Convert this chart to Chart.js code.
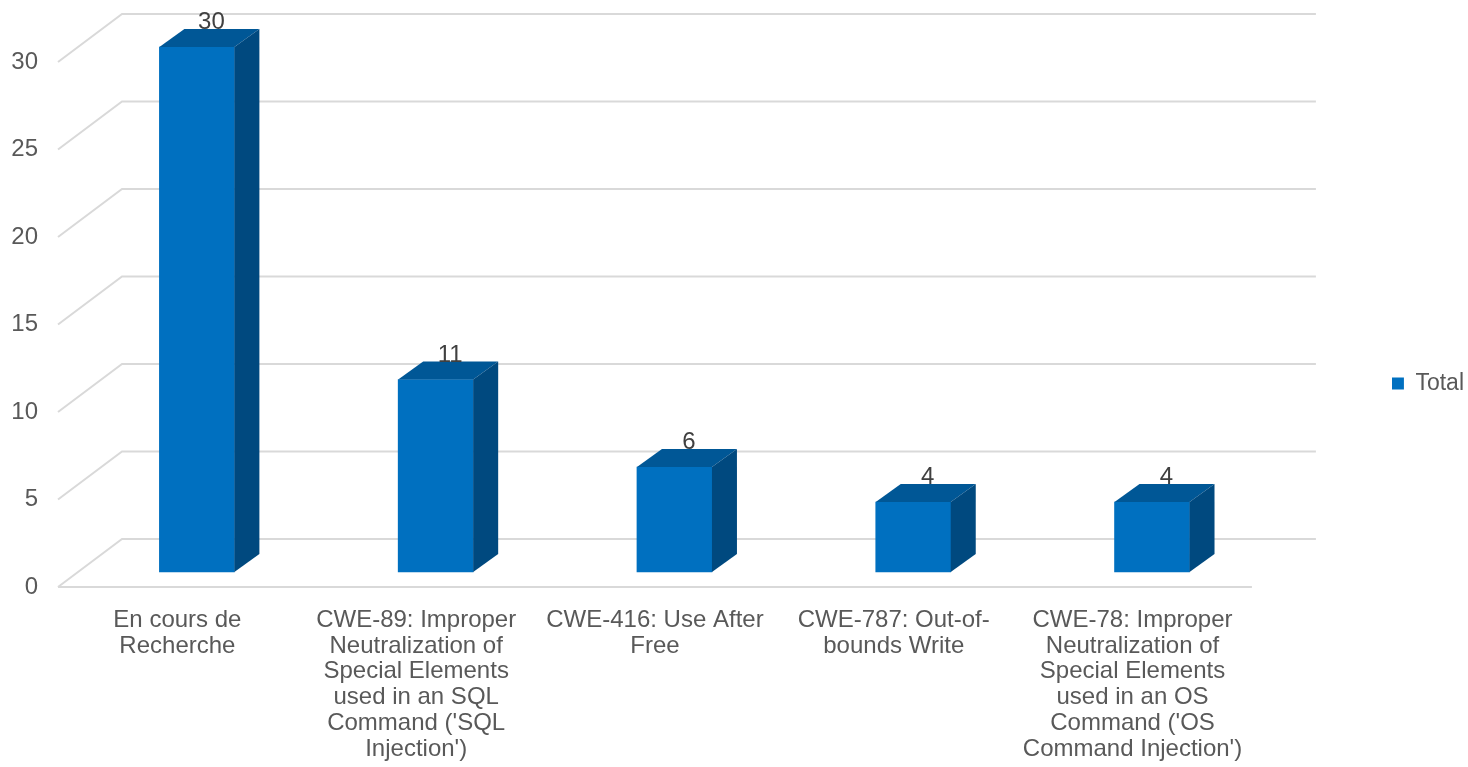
<!DOCTYPE html>
<html>
<head>
<meta charset="utf-8">
<script src="https://cdn.jsdelivr.net/npm/chart.js@4.4.1/dist/chart.umd.min.js"></script>
<style>
  html, body { margin: 0; padding: 0; background: #ffffff; }
  canvas { display: block; }
</style>
</head>
<body>
<canvas id="cweChart" width="1468" height="767"></canvas>
<script>
// Categories (wrapped like the original axis)
const categories = [
    ['En cours de', 'Recherche'],
    ['CWE-89: Improper', 'Neutralization of', 'Special Elements', 'used in an SQL', "Command ('SQL", "Injection')"],
    ['CWE-416: Use After', 'Free'],
    ['CWE-787: Out-of-', 'bounds Write'],
    ['CWE-78: Improper', 'Neutralization of', 'Special Elements', 'used in an OS', "Command ('OS", "Command Injection')"]
];
const totals = [30, 11, 6, 4, 4];
const yTicks = [0, 5, 10, 15, 20, 25, 30];
const seriesName = 'Total';

// 3D look (Excel style): back wall offset, bar position in depth, bar depth
const WALL = { dx: 64, dy: -48 };
const BAR_SHIFT = { dx: 19.5, dy: -15 };
const BAR_DEPTH = { dx: 25, dy: -18 };
const GRID_COLOR = '#d9d9d9';
const FONT = 'Liberation Sans, Arial, sans-serif';

// Draws the perspective grid, shifts bars into depth, adds top/side faces
const fake3d = {
    id: 'fake3d',
    beforeDatasetsDraw(chart) {
        const { ctx, chartArea, scales } = chart;
        const y = scales.y;
        ctx.save();
        ctx.strokeStyle = GRID_COLOR;
        ctx.lineWidth = 2;
        yTicks.forEach(v => {
            const py = y.getPixelForValue(v);
            ctx.beginPath();
            ctx.moveTo(chartArea.left, py);
            ctx.lineTo(chartArea.left + WALL.dx, py + WALL.dy);
            ctx.lineTo(chartArea.right + WALL.dx, py + WALL.dy);
            ctx.stroke();
        });
        // floor front edge
        const p0 = y.getPixelForValue(0);
        ctx.beginPath();
        ctx.moveTo(chartArea.left, p0);
        ctx.lineTo(chartArea.right, p0);
        ctx.stroke();
        ctx.restore();

        ctx.save();
        ctx.translate(BAR_SHIFT.dx, BAR_SHIFT.dy);
    },
    afterDatasetsDraw(chart) {
        const { ctx } = chart;
        const meta = chart.getDatasetMeta(0);
        meta.data.forEach(bar => {
            const { x, y, base, width } = bar.getProps(['x', 'y', 'base', 'width'], true);
            const l = x - width / 2;
            const r = x + width / 2;
            // top face
            ctx.fillStyle = '#005796';
            ctx.beginPath();
            ctx.moveTo(l, y);
            ctx.lineTo(r, y);
            ctx.lineTo(r + BAR_DEPTH.dx, y + BAR_DEPTH.dy);
            ctx.lineTo(l + BAR_DEPTH.dx, y + BAR_DEPTH.dy);
            ctx.closePath();
            ctx.fill();
            // side face
            ctx.fillStyle = '#00497f';
            ctx.beginPath();
            ctx.moveTo(r, y);
            ctx.lineTo(r + BAR_DEPTH.dx, y + BAR_DEPTH.dy);
            ctx.lineTo(r + BAR_DEPTH.dx, base + BAR_DEPTH.dy);
            ctx.lineTo(r, base);
            ctx.closePath();
            ctx.fill();
        });
        ctx.restore();

        // value labels above the top face
        ctx.save();
        ctx.fillStyle = '#404040';
        ctx.font = '24px ' + FONT;
        ctx.textAlign = 'center';
        ctx.textBaseline = 'alphabetic';
        meta.data.forEach((bar, i) => {
            const { x, y } = bar.getProps(['x', 'y'], true);
            const lx = x + BAR_SHIFT.dx + BAR_DEPTH.dx / 2 + 2;
            const ly = y + BAR_SHIFT.dy + BAR_DEPTH.dy;
            ctx.fillText(String(totals[i]), lx, ly);
        });
        ctx.restore();
    }
};

const chart = new Chart(document.getElementById('cweChart'), {
    type: 'bar',
    data: {
        labels: categories,
        datasets: [{
            label: seriesName,
            data: totals,
            backgroundColor: '#0070c0',
            borderWidth: 0,
            barThickness: 75,
            clip: false
        }]
    },
    options: {
        responsive: false,
        animation: false,
        layout: { padding: { top: 0, left: 0, right: -6, bottom: 0 } },
        plugins: {
            legend: {
                position: 'right',
                labels: {
                    boxWidth: 12,
                    boxHeight: 12,
                    padding: 0,
                    color: '#595959',
                    font: { family: FONT, size: 23 }
                }
            },
            tooltip: { enabled: false }
        },
        scales: {
            x: {
                grid: { display: false, drawTicks: false },
                border: { display: false },
                ticks: {
                    color: '#595959',
                    font: { family: FONT, size: 24, lineHeight: 1.08 },
                    padding: 20,
                    maxRotation: 0,
                    autoSkip: false
                },
                afterFit(scale) { scale.height = 180; }
            },
            y: {
                min: 0,
                max: 30,
                grid: { display: false, drawTicks: false },
                border: { display: false },
                ticks: {
                    stepSize: 5,
                    color: '#595959',
                    font: { family: FONT, size: 24 },
                    padding: 20
                },
                afterFit(scale) { scale.width = 58; }
            },
            // empty spacers: above the plot and between the plot and the legend
            gapTop: {
                position: 'top',
                display: true,
                grid: { display: false, drawTicks: false },
                border: { display: false },
                ticks: { display: false },
                afterFit(scale) { scale.height = 62; }
            },
            gap: {
                position: 'right',
                display: true,
                grid: { display: false, drawTicks: false },
                border: { display: false },
                ticks: { display: false },
                afterFit(scale) { scale.width = 140; }
            }
        }
    },
    plugins: [fake3d]
});
</script>
</body>
</html>
